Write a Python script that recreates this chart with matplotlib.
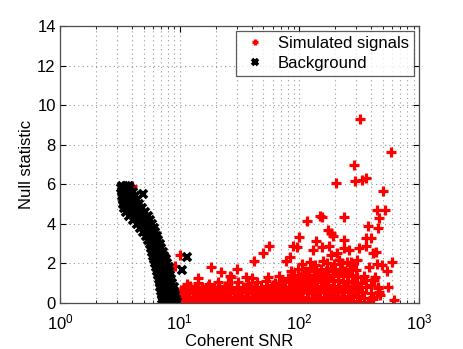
import matplotlib
matplotlib.use("Agg")
import matplotlib.pyplot as plt
import numpy as np

plt.rcParams['font.family'] = ['Liberation Sans', 'DejaVu Sans']
plt.rcParams['mathtext.fontset'] = 'custom'
plt.rcParams['mathtext.rm'] = 'Liberation Sans'

# background triggers (dense band)
bg_snr = [
    3.30, 3.55, 3.80,
    3.25, 3.45, 3.65, 3.87,
    3.29, 3.52, 3.78, 4.05,
    3.30, 3.55, 3.85, 4.20,
    3.33, 3.65, 4.00, 4.40,
    3.34, 3.70, 4.10, 4.60,
    3.42, 3.80, 4.25, 4.60, 4.85,
    3.58, 3.95, 4.35, 4.75, 5.15,
    3.77, 4.15, 4.60, 5.00, 5.44,
    4.05, 4.45, 4.85, 5.25, 5.65,
    4.37, 4.75, 5.10, 5.50, 5.88,
    4.67, 5.00, 5.35, 5.70, 6.10,
    4.93, 5.25, 5.60, 5.90, 6.26,
    5.20, 5.50, 5.80, 6.10, 6.44,
    5.39, 5.70, 6.00, 6.30, 6.63,
    5.60, 5.90, 6.20, 6.50, 6.83,
    5.79, 6.10, 6.40, 6.70, 7.03,
    5.90, 6.20, 6.55, 6.90, 7.23,
    6.00, 6.35, 6.70, 7.05, 7.43,
    6.14, 6.50, 6.85, 7.25, 7.64,
    6.25, 6.60, 7.00, 7.40, 7.86,
    6.37, 6.75, 7.15, 7.60, 8.08,
    6.49, 6.90, 7.30, 7.75, 8.22,
    6.60, 7.00, 7.45, 7.90, 8.38,
    6.71, 7.10, 7.60, 8.05, 8.54,
    6.81, 7.25, 7.75, 8.20, 8.71,
    6.90, 7.35, 7.85, 8.35, 8.88,
    7.00, 7.50, 8.00, 8.50, 9.03,
    7.10, 7.60, 8.10, 8.60, 9.19,
    7.16, 7.65, 8.15, 8.70, 9.33,
    7.20, 7.70, 8.20, 8.80, 9.45,
    4.90, 11.6, 10.5,
]
bg_null = (
    [5.92] * 3 + [5.80] * 4 + [5.60] * 4 + [5.40] * 4 + [5.20] * 4 + [5.00] * 4
    + [4.80] * 5 + [4.60] * 5 + [4.40] * 5 + [4.20] * 5 + [4.00] * 5
    + [3.80] * 5 + [3.60] * 5 + [3.40] * 5 + [3.20] * 5 + [3.00] * 5
    + [2.80] * 5 + [2.60] * 5 + [2.40] * 5 + [2.20] * 5 + [2.00] * 5
    + [1.80] * 5 + [1.60] * 5 + [1.40] * 5 + [1.20] * 5 + [1.00] * 5
    + [0.80] * 5 + [0.60] * 5 + [0.40] * 5 + [0.20] * 5 + [0.05] * 5
    + [5.50, 2.32, 1.67]
)

# simulated signals: dense cloud near the axis
sim_snr_low = [
    10.4, 11.3, 12.5, 13.9, 15.6, 17.4, 19.6, 22.1, 24.8, 27.9, 31.2, 35.0, 39.3, 44.1, 49.5, 55.6,
    62.4, 70.0, 78.6, 88.2, 99, 111, 124, 139, 157, 176, 197, 221, 248, 279, 320, 372,
    10.2, 10.9, 12.0, 13.3, 14.8, 16.5, 18.5, 20.8, 23.4, 26.3, 29.6, 33.2, 37.3, 41.9, 47.1, 52.9,
    59.4, 66.7, 74.9, 84.1, 94.5, 106, 119, 134, 150, 168, 189, 212, 238, 268, 301, 345, 410,
    10.5, 11.6, 12.9, 14.4, 16.1, 18.0, 20.2, 22.7, 25.5, 28.6, 32.1, 36.0, 40.4, 45.4, 51.0, 57.2,
    64.2, 72.1, 80.9, 90.8, 102, 115, 129, 145, 162, 182, 204, 229, 257, 290, 335, 395,
    10.8, 12.2, 13.7, 15.3, 17.1, 19.2, 21.5, 24.1, 27.0, 30.3, 34.0, 38.2, 42.9, 48.2, 54.1, 60.7,
    68.2, 76.6, 86.0, 96.5, 108, 121, 136, 153, 172, 193, 216, 243, 273, 310, 360, 450,
    10.6, 11.9, 13.1, 14.6, 16.3, 18.3, 20.5, 23.0, 25.8, 29.0, 32.6, 36.6, 41.1, 46.2, 51.8, 58.1,
    65.3, 73.3, 82.3, 92.4, 104, 117, 131, 147, 165, 185, 208, 233, 262,
    10.3, 11.1, 12.3, 13.6, 15.1, 16.9, 19.0, 21.3, 23.9, 26.8, 30.1, 33.8, 37.9, 42.6, 47.8, 53.6,
    60.2, 67.6, 75.9, 85.2, 95.7, 107, 121, 135, 152, 171, 192, 215, 241, 270, 305,
]
sim_null_low = [
    0.04, 0.10, 0.02, 0.08, 0.05, 0.12, 0.03, 0.07, 0.11, 0.02, 0.06, 0.09, 0.03, 0.10, 0.05, 0.02,
    0.08, 0.12, 0.04, 0.06, 0.10, 0.03, 0.07, 0.05, 0.11, 0.02, 0.09, 0.06, 0.04, 0.10, 0.07, 0.05,
    0.28, 0.35, 0.25, 0.32, 0.38, 0.27, 0.33, 0.24, 0.36, 0.30, 0.26, 0.37, 0.31, 0.28, 0.34, 0.25,
    0.36, 0.29, 0.33, 0.27, 0.38, 0.30, 0.25, 0.35, 0.32, 0.28, 0.37, 0.26, 0.33, 0.30, 0.36, 0.27, 0.31,
    0.52, 0.58, 0.50, 0.60, 0.55, 0.49, 0.57, 0.53, 0.61, 0.50, 0.56, 0.59, 0.51, 0.54, 0.60, 0.52,
    0.57, 0.50, 0.55, 0.62, 0.53, 0.58, 0.50, 0.56, 0.60, 0.52, 0.57, 0.54, 0.59, 0.51, 0.56, 0.53,
    0.78, 0.84, 0.75, 0.82, 0.88, 0.76, 0.80, 0.86, 0.74, 0.83, 0.79, 0.87, 0.77, 0.81, 0.85, 0.90,
    0.78, 0.83, 0.88, 0.80, 0.86, 0.92, 0.79, 0.84, 0.89, 0.82, 0.87, 0.80, 0.85, 0.78, 0.83, 0.80,
    0.17, 0.22, 0.15, 0.20, 0.18, 0.24, 0.16, 0.21, 0.19, 0.23, 0.15, 0.20, 0.18, 0.22, 0.17, 0.21,
    0.19, 0.24, 0.16, 0.20, 0.18, 0.22, 0.15, 0.21, 0.19, 0.23, 0.17, 0.20, 0.18,
    0.66, 0.70, 0.64, 0.72, 0.68, 0.65, 0.71, 0.67, 0.73, 0.64, 0.69, 0.72, 0.66, 0.70, 0.65, 0.71,
    0.68, 0.74, 0.66, 0.70, 0.72, 0.67, 0.75, 0.69, 0.73, 0.68, 0.76, 0.70, 0.74, 0.69, 0.72,
]

# simulated signals: upper part of the cloud, 100 < SNR < 400
sim_snr_mid = [
    11.5, 14.2, 17.5, 21.0, 25.5, 30.5, 37.0, 44.0, 52.5, 62.0, 72.0, 82.0, 92.0, 103, 114, 126,
    140, 155, 172, 190, 210, 232, 256, 285, 330, 420,
    40, 55, 68, 80, 90, 100, 110, 121, 133, 146, 160, 175, 192, 210, 230, 252, 278, 305, 345,
    85, 98, 112, 125, 138, 152, 167, 183, 200, 220, 242, 265, 295,
    105, 122, 134, 158, 170, 196, 215, 228, 250, 280,
]
sim_null_mid = [
    0.98, 1.02, 0.95, 1.05, 1.00, 1.08, 0.97, 1.04, 1.10, 0.99, 1.12, 1.06, 1.15, 1.03, 1.18, 1.08,
    1.13, 1.05, 1.20, 1.10, 1.16, 1.04, 1.12, 1.07, 1.00, 1.15,
    1.25, 1.30, 1.38, 1.28, 1.42, 1.33, 1.45, 1.30, 1.40, 1.35, 1.48, 1.32, 1.43, 1.37, 1.50, 1.34, 1.41, 1.30, 1.38,
    1.60, 1.70, 1.62, 1.75, 1.66, 1.72, 1.60, 1.78, 1.68, 1.74, 1.62, 1.70, 1.65,
    1.95, 2.05, 1.92, 2.10, 2.00, 1.98, 2.15, 2.02, 2.08, 1.95,
]

# simulated signals: scattered points
sim_snr_out = [
    4.03, 9.1, 10.06, 14.2, 18.1, 22.3, 26.1, 26.6, 30.2, 36, 42, 49.5, 56, 77, 83, 88, 95, 100,
    116, 129, 139, 149, 155, 156, 175, 178, 184, 184, 190, 202, 208, 237, 237, 237, 261, 270,
    287, 293, 306, 316, 320, 333, 364, 364, 364, 372, 383, 396, 416, 436, 449, 449, 457, 464,
    473, 494, 504, 521, 545, 554, 581, 600, 619, 396, 360, 457, 464, 430, 410,
]
sim_null_out = [
    5.92, 1.87, 2.42, 1.25, 1.83, 1.58, 1.36, 1.30, 1.70, 1.33, 2.14, 2.54, 2.89, 2.12, 2.34, 2.89, 2.84, 3.32,
    4.12, 2.68, 3.13, 4.39, 4.33, 2.84, 3.69, 2.88, 3.52, 2.42, 3.38, 6.05, 2.51, 4.36, 3.18, 2.76, 2.68, 2.09,
    7.00, 6.16, 2.17, 2.76, 9.28, 6.21, 6.30, 3.27, 2.89, 3.89, 1.83, 3.30, 2.54, 2.59, 4.70, 1.97, 3.77, 4.31,
    0.40, 1.90, 5.67, 4.70, 1.63, 0.82, 7.64, 2.06, 0.15, 0.91, 1.16, 0.74, 0.57, 1.30, 0.20,
]

sim_snr = sim_snr_low + sim_snr_mid + sim_snr_out
sim_null = sim_null_low + sim_null_mid + sim_null_out

fig = plt.figure(figsize=(4.63, 3.49), dpi=100)
ax = fig.add_axes([0.1296, 0.1318, 0.7754, 0.7937])

ax.plot(sim_snr, sim_null, linestyle='none', marker='+', color='red',
        markersize=6.5, markeredgewidth=2.3, label='Simulated signals')
ax.plot(bg_snr, bg_null, linestyle='none', marker='x', color='black',
        markersize=6.2, markeredgewidth=2.6, label='Background')

ax.set_xscale('log')
ax.set_xlim(1, 1000)
ax.set_ylim(0, 14)
ax.set_yticks(np.arange(0, 15, 2))

grid_kw = dict(linestyle=(0, (1, 3)), color='0.6', linewidth=0.8)
ax.grid(True, which='major', axis='both', **grid_kw)
ax.grid(True, which='minor', axis='x', **grid_kw)
ax.tick_params(which='both', direction='in', top=True, right=True, labelsize=12)
ax.tick_params(which='major', length=4)
ax.tick_params(which='minor', length=2)
ax.tick_params(axis='x', which='major', pad=7)
ax.tick_params(axis='y', which='major', pad=3)
for s in ax.spines.values():
    s.set_color('0.3')
    s.set_linewidth(0.9)

ax.set_xlabel('Coherent SNR', fontsize=12, labelpad=1)
ax.set_ylabel('Null statistic', fontsize=12, labelpad=2)

leg = ax.legend(loc='upper right', fontsize=12, frameon=True, fancybox=False,
                borderpad=0.3, labelspacing=0.3, handletextpad=0.6,
                borderaxespad=0.3, handlelength=1.6, markerscale=0.6)
leg.get_frame().set_edgecolor('0.2')
leg.get_frame().set_linewidth(0.9)

fig.savefig('out.png', dpi=100)
